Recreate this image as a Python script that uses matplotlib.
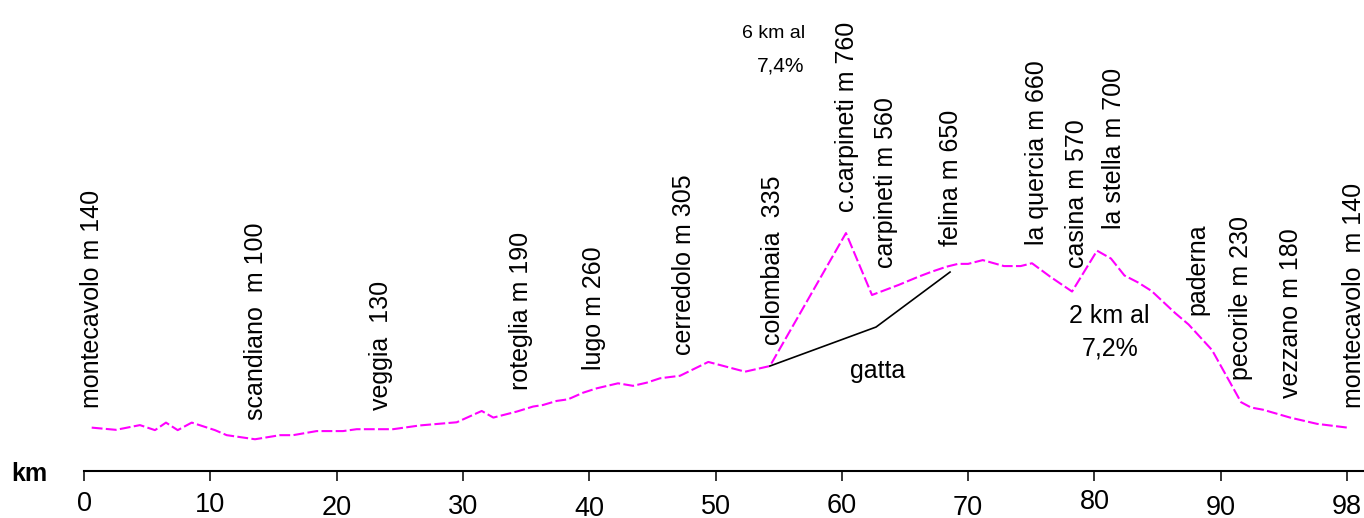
import matplotlib
matplotlib.use('Agg')
import matplotlib.pyplot as plt

plt.rcParams['font.family'] = ['Liberation Sans', 'DejaVu Sans']

# ---- data ----
profile_km = [0.61, 2.53, 4.43, 5.62, 6.49, 7.42, 8.53, 10.37, 11.30, 13.54,
              15.52, 16.55, 18.42, 20.51, 21.59, 24.47, 26.60, 29.51, 31.49, 32.41,
              34.26, 35.55, 36.34, 37.43, 38.32, 39.51, 40.59, 42.28, 43.47, 44.55,
              45.61, 47.19, 49.43, 52.34, 54.31, 60.33, 62.39, 64.50, 66.06, 67.11,
              68.29, 69.20, 70.00, 71.16, 72.84, 74.16, 75.06, 76.51, 78.23, 80.21,
              81.31, 82.38, 83.45, 84.52, 86.38, 87.46, 89.31, 91.61, 92.40, 93.35,
              95.49, 97.63, 100.24]
profile_m = [138, 131, 146, 130, 154, 130, 154, 130, 114, 101,
             114, 114, 127, 127, 133, 133, 145, 155, 191, 170,
             189, 205, 210, 223, 228, 249, 263, 279, 271, 281,
             295, 303, 347, 316, 334, 757, 560, 592, 618, 634,
             650, 659, 659, 671, 652, 652, 661, 618, 571, 701,
             676, 622, 600, 573, 503, 466, 385, 219, 202, 195,
             170, 150, 137]

gatta_km = [54.31, 62.71, 68.57]
gatta_m = [334, 458, 633]

place_names = ["montecavolo m 140", "scandiano  m 100", "veggia  130",
               "roteglia m 190", "lugo m 260", "cerredolo m 305",
               "colombaia  335", "c.carpineti m 760", "carpineti m 560",
               "felina m 650", "la quercia m 660", "casina m 570",
               "la stella m 700", "paderna", "pecorile m 230",
               "vezzano m 180", "montecavolo  m 140"]

tick_km = [0, 10, 20, 30, 40, 50, 60, 70, 80, 90, 100]
tick_labels = ["0", "10", "20", "30", "40", "50", "60", "70", "80", "90", "98"]

# ---- layout (positions of annotations) ----
place_pos = [(0.63, 200), (13.62, 162), (23.52, 194), (34.60, 258), (40.38, 321),
             (47.51, 369), (54.55, 401), (60.41, 824), (63.50, 646), (68.65, 716),
             (75.46, 719), (78.62, 646), (81.55, 770), (88.12, 496), (91.61, 290),
             (95.57, 232), (100.55, 200)]
tick_baseline_px = [511, 512, 515, 514, 516, 514, 513, 515, 509, 515, 514]

W, H = 1364, 518
AX_BOTTOM_PX = 471          # y pixel of the axis line
PX_PER_KM = 12.63
PX_PER_M = 0.3143

fig = plt.figure(figsize=(W / 100, H / 100), dpi=100)
fig.patch.set_facecolor('white')
ax = fig.add_axes([84 / W, (H - AX_BOTTOM_PX) / H, 1 - 84 / W, AX_BOTTOM_PX / H])
ax.set_xlim(0, (W - 84) / PX_PER_KM)
ax.set_ylim(0, AX_BOTTOM_PX / PX_PER_M)

ax.plot(profile_km, profile_m, color='#FF00FF', lw=1.5, dashes=(5.2, 1.6))
ax.plot(gatta_km, gatta_m, color='black', lw=1.2)

for s in ['left', 'top', 'right']:
    ax.spines[s].set_visible(False)
ax.spines['bottom'].set_linewidth(1.5)
ax.set_yticks([])
ax.set_xticks(tick_km, tick_labels)
ax.tick_params(axis='x', direction='out', length=7, width=1.1, pad=-7,
               labelsize=19.5, colors='black')
for tick, base in zip(ax.xaxis.get_major_ticks(), tick_baseline_px):
    tick.label1.set_verticalalignment('baseline')
    tick.label1.set_y(-(base - AX_BOTTOM_PX) / AX_BOTTOM_PX)

for name, (x, y) in zip(place_names, place_pos):
    ax.text(x, y, name, rotation=90, ha='center', va='bottom', fontsize=18,
            clip_on=False)

ax.text(54.63, 1392, "6 km al", ha='center', va='center', fontsize=14)
ax.text(55.19, 1290, "7,4%", ha='center', va='center', fontsize=15,
        family=['Liberation Sans Narrow', 'Liberation Sans', 'DejaVu Sans'])
ax.text(62.87, 318, "gatta", ha='center', va='center', fontsize=18)
ax.text(81.16, 494, "2 km al", ha='center', va='center', fontsize=18)
ax.text(81.24, 390, "7,2%", ha='center', va='center', fontsize=18)

fig.text(29 / W, 1 - 474 / H, "km", ha='center', va='center', fontsize=18,
         fontweight='bold')

fig.savefig('out.png', dpi=100, facecolor='white')
